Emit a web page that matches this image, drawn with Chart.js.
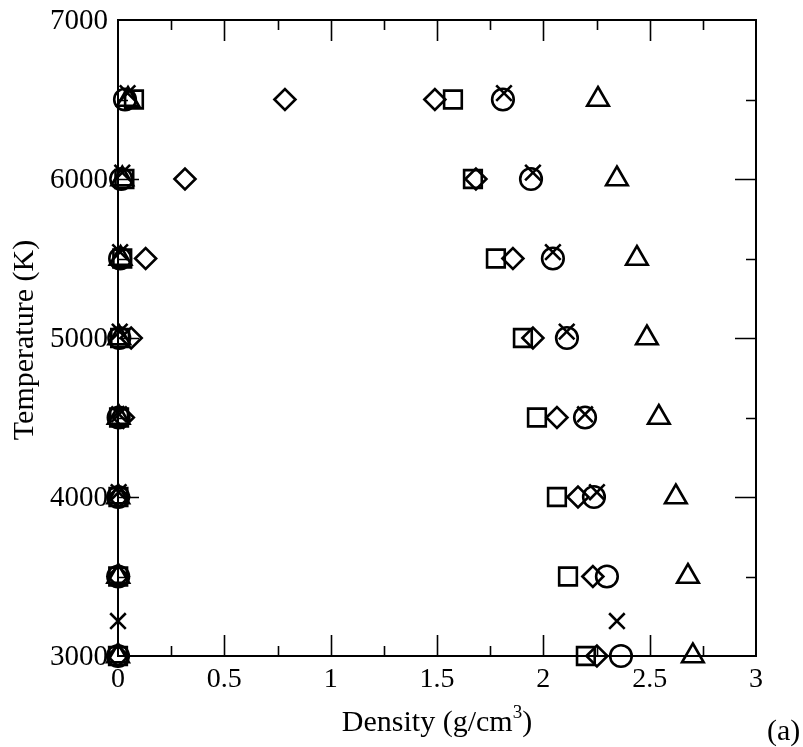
<!DOCTYPE html>
<html>
<head>
<meta charset="utf-8">
<script src="https://cdn.jsdelivr.net/npm/chart.js@4/dist/chart.umd.min.js"></script>
<style>
  html, body { margin: 0; padding: 0; background: #fff; }
  #wrap { width: 803px; height: 747px; }
</style>
</head>
<body>
<div id="wrap"><canvas id="c" width="803" height="747"></canvas></div>
<script>
// ---- data ----
const temps = [3000, 3500, 4000, 4500, 5000, 5500, 6000, 6500];

const squareLiquid   = [2.200, 2.116, 2.064, 1.970, 1.904, 1.777, 1.669, 1.575];
const squareGas      = [0.000, 0.001, 0.002, 0.005, 0.010, 0.020, 0.030, 0.075];

const diamondLiquid  = [2.252, 2.233, 2.163, 2.064, 1.951, 1.857, 1.683, 1.490];
const diamondGas     = [0.000, 0.001, 0.003, 0.025, 0.062, 0.130, 0.315, 0.785];

const circleLiquid   = [2.365, 2.299, 2.238, 2.196, 2.111, 2.045, 1.942, 1.810];
const circleGas      = [0.000, 0.001, 0.001, 0.003, 0.006, 0.010, 0.015, 0.033];

const triangleLiquid = [2.703, 2.680, 2.623, 2.543, 2.487, 2.440, 2.346, 2.257];
const triangleGas    = [0.000, 0.001, 0.001, 0.003, 0.006, 0.012, 0.020, 0.047];

const crossTemps     = [3220, 4030, 4520, 5040, 5540, 6040, 6540];
const crossLiquid    = [2.346, 2.252, 2.196, 2.110, 2.045, 1.951, 1.815];
const crossGas       = [0.000, 0.003, 0.005, 0.008, 0.010, 0.020, 0.045];

const xTickLabels = ["0", "0.5", "1", "1.5", "2", "2.5", "3"];
const yTickLabels = ["3000", "4000", "5000", "6000", "7000"];
const xTitle = "Density (g/cm";
const yTitle = "Temperature (K)";
const panelLabel = "(a)";

// ---- build ----
function pts(ts, a, b) {
  const out = [];
  ts.forEach((t, i) => { out.push({x: a[i], y: t}); out.push({x: b[i], y: t}); });
  return out;
}
function ds(data, style, r) {
  return {
    data, pointStyle: style, pointRadius: r, pointHoverRadius: r,
    pointBorderColor: '#000', pointBackgroundColor: 'rgba(0,0,0,0)',
    pointBorderWidth: 2.6, showLine: false, clip: false
  };
}

const SERIF = "'Liberation Serif', 'DejaVu Serif', serif";

const framePlugin = {
  id: 'frame',
  beforeDatasetsDraw(chart) {
    const ctx = chart.ctx, a = chart.chartArea;
    const xs = chart.scales.x, ys = chart.scales.y;
    ctx.save();
    ctx.strokeStyle = '#000';
    ctx.lineWidth = 2;
    ctx.strokeRect(a.left, a.top, a.right - a.left, a.bottom - a.top);
    ctx.lineWidth = 1.6;
    ctx.beginPath();
    for (let v = 0.25; v < 3; v += 0.25) {
      const px = Math.round(xs.getPixelForValue(v)) + 0.5;
      const major = Math.abs(v * 2 - Math.round(v * 2)) < 1e-6;
      const L = major ? 21 : 10;
      ctx.moveTo(px, a.bottom); ctx.lineTo(px, a.bottom - L);
      ctx.moveTo(px, a.top); ctx.lineTo(px, a.top + L);
    }
    for (let v = 3500; v < 7000; v += 500) {
      const py = Math.round(ys.getPixelForValue(v)) + 0.5;
      const major = v % 1000 === 0;
      const L = major ? 21 : 10;
      ctx.moveTo(a.left, py); ctx.lineTo(a.left + L, py);
      ctx.moveTo(a.right, py); ctx.lineTo(a.right - L, py);
    }
    ctx.stroke();
    ctx.restore();
  },
  afterDraw(chart) {
    const ctx = chart.ctx, a = chart.chartArea;
    const xs = chart.scales.x, ys = chart.scales.y;
    ctx.save();
    ctx.fillStyle = '#000';
    ctx.font = '28px ' + SERIF;
    ctx.textAlign = 'center';
    ctx.textBaseline = 'alphabetic';
    xTickLabels.forEach(l => {
      ctx.fillText(l, xs.getPixelForValue(parseFloat(l)), 687);
    });
    ctx.font = '29px ' + SERIF;
    ctx.textAlign = 'right';
    ctx.textBaseline = 'middle';
    yTickLabels.forEach(l => {
      ctx.fillText(l, a.left - 10, ys.getPixelForValue(parseFloat(l)) + 1);
    });
    // x title with superscript
    ctx.font = '30px ' + SERIF;
    ctx.textAlign = 'left';
    ctx.textBaseline = 'alphabetic';
    const w1 = ctx.measureText(xTitle).width;
    ctx.font = '19px ' + SERIF;
    const w2 = ctx.measureText('3').width;
    ctx.font = '30px ' + SERIF;
    const w3 = ctx.measureText(')').width;
    const total = w1 + w2 + w3;
    let x0 = 437 - total / 2;
    ctx.fillText(xTitle, x0, 731);
    ctx.font = '19px ' + SERIF;
    ctx.fillText('3', x0 + w1, 718);
    ctx.font = '30px ' + SERIF;
    ctx.fillText(')', x0 + w1 + w2, 731);
    // panel label
    ctx.fillText(panelLabel, 767, 740);
    // y title
    ctx.translate(33, 340);
    ctx.rotate(-Math.PI / 2);
    ctx.textAlign = 'center';
    ctx.fillText(yTitle, 0, 0);
    ctx.restore();
  }
};

new Chart(document.getElementById('c'), {
  type: 'scatter',
  data: {
    datasets: [
      ds(pts(temps, squareLiquid, squareGas), 'rect', 12.5),
      ds(pts(temps, diamondLiquid, diamondGas), 'rectRot', 10.5),
      ds(pts(temps, circleLiquid, circleGas), 'circle', 10.8),
      ds(pts(temps, triangleLiquid, triangleGas), 'triangle', 12.5),
      ds(pts(crossTemps, crossLiquid, crossGas), 'crossRot', 11)
    ]
  },
  options: {
    responsive: false,
    animation: false,
    events: [],
    layout: { padding: { left: 118, top: 20, right: 47, bottom: 91 } },
    scales: {
      x: { type: 'linear', min: 0, max: 3, display: false },
      y: { type: 'linear', min: 3000, max: 7000, display: false }
    },
    plugins: { legend: { display: false }, tooltip: { enabled: false } }
  },
  plugins: [framePlugin]
});
</script>
</body>
</html>
